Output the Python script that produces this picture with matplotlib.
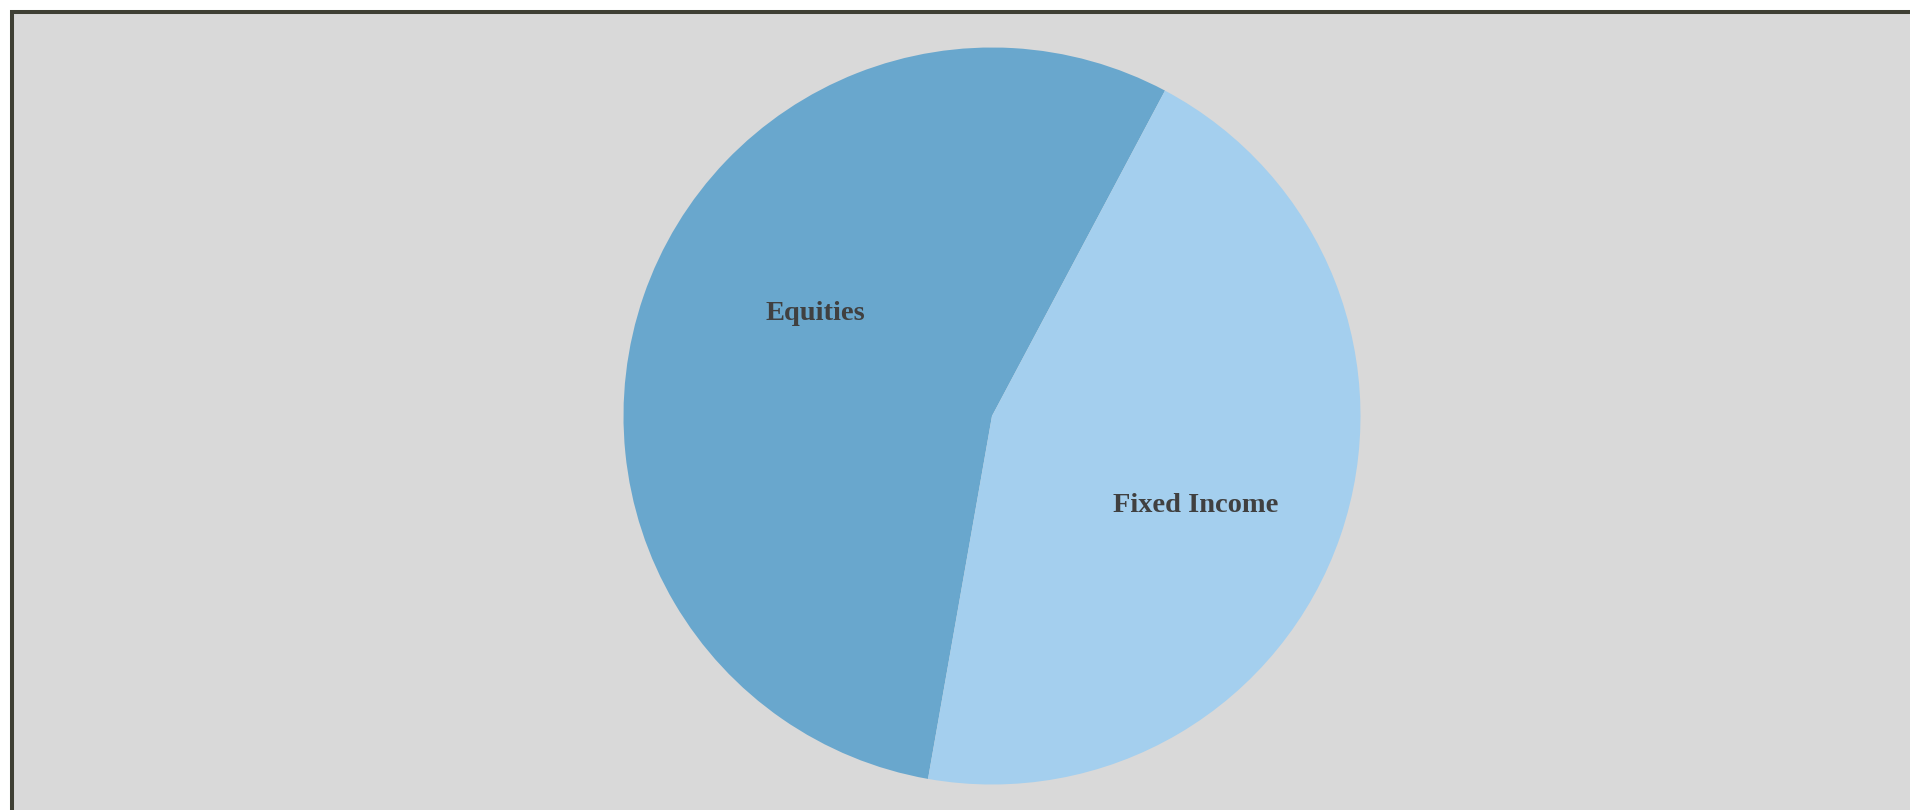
import matplotlib.pyplot as plt
from matplotlib.patches import Rectangle

labels = ["Equities", "Fixed Income"]
shares = [55, 45]
colors = ["#69a7cd", "#a4cfee"]

W, H = 1910, 810
fig = plt.figure(figsize=(W / 100, H / 100), dpi=100)
ax = fig.add_axes([0, 0, 1, 1])

# grey panel with a dark frame (right and bottom edges run off the canvas)
ax.add_patch(Rectangle((12, -20), W + 20, H - 12 + 20, facecolor="#d9d9d9",
                       edgecolor="#3f4035", linewidth=2.9, zorder=0))

wedges, _ = ax.pie(shares, colors=colors, startangle=62, counterclock=True,
                   center=(992, 394), radius=368.5, frame=True,
                   wedgeprops=dict(linewidth=0))
ax.set_xlim(0, W)
ax.set_ylim(0, H)
ax.set_aspect("auto")
ax.axis("off")

label_pos = [(815, 496), (1196, 304)]
for name, (x, y) in zip(labels, label_pos):
    ax.text(x, y, name, ha="center", va="center", fontsize=20.5,
            fontweight="bold", family="Liberation Serif", color="#404040")

fig.savefig("out.png", dpi=100)
